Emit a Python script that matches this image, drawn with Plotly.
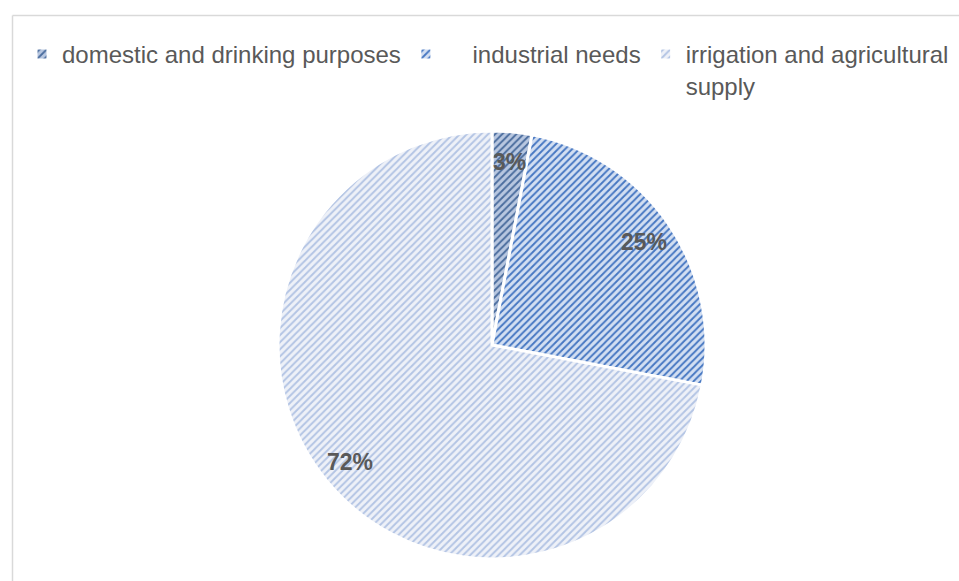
import math
import plotly.graph_objects as go

categories = ["domestic and drinking purposes", "\u00a0\u00a0\u00a0\u00a0industrial needs", "irrigation and agricultural<br>supply"]
values = [3, 25, 72]
value_labels = ["3%", "25%", "72%"]

fg_colors = ["#4b6d9e", "#4677c2", "#b3c4e4"]
bg_colors = ["#b8c7e0", "#d3dff2", "#eef1f8"]

W, H = 959, 581
cx, cy, R = 492, 345, 214

fig = go.Figure()
fig.add_trace(go.Pie(
    labels=categories,
    values=values,
    sort=False,
    direction="clockwise",
    rotation=0,
    textinfo="none",
    hoverinfo="label+percent",
    marker=dict(
        colors=bg_colors,
        line=dict(color="white", width=3),
        pattern=dict(shape="/", fgcolor=fg_colors, bgcolor=bg_colors, size=5, solidity=0.38),
    ),
    domain=dict(x=[(cx - R) / W, (cx + R) / W], y=[(H - cy - R) / H, (H - cy + R) / H]),
))

# percentage labels placed from the data (mid-angle of each slice)
total = sum(values)
cum = 0
annotations = []
for v, lab in zip(values, value_labels):
    mid = (cum + v / 2) / total * 2 * math.pi
    cum += v
    rr = 0.86 * R
    px = cx + rr * math.sin(mid)
    py = cy - rr * math.cos(mid)
    annotations.append(dict(
        x=px / W, y=1 - py / H, xref="paper", yref="paper",
        xanchor="center", yanchor="middle",
        text="<b>" + lab + "</b>", showarrow=False,
        font=dict(family="Liberation Sans, Arial", size=23, color="#595959"),
    ))

fig.update_layout(
    width=W, height=H,
    margin=dict(l=0, r=0, t=0, b=0),
    paper_bgcolor="white",
    plot_bgcolor="white",
    showlegend=True,
    legend=dict(
        orientation="h",
        x=22 / W, y=1 - 32 / H, xanchor="left", yanchor="top",
        font=dict(family="Liberation Sans, Arial", size=24, color="#595959"),
        valign="top",
        traceorder="normal",
    ),
    annotations=annotations,
    shapes=[
        dict(type="line", xref="paper", yref="paper", x0=12.5 / W, x1=1, y0=1 - 15.5 / H, y1=1 - 15.5 / H,
             line=dict(color="#d9d9d9", width=1.5)),
        dict(type="line", xref="paper", yref="paper", x0=12.5 / W, x1=12.5 / W, y0=0, y1=1 - 15.5 / H,
             line=dict(color="#d9d9d9", width=1.5)),
    ],
)

fig.write_html("out.html")
